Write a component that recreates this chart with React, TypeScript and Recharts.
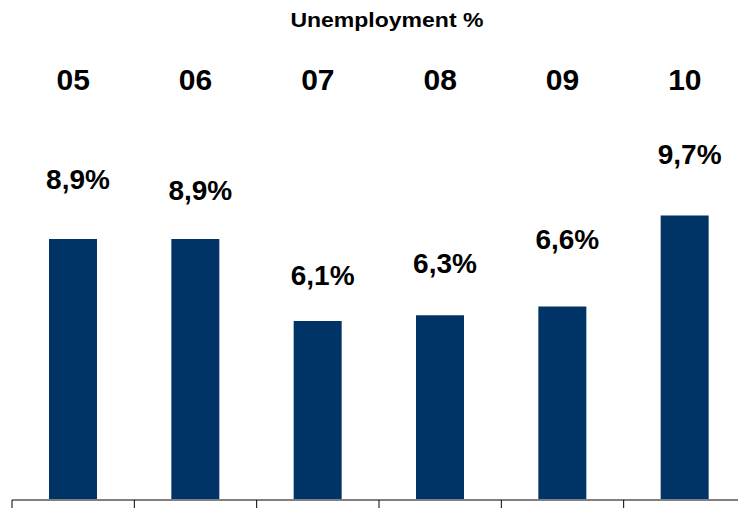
import { BarChart, Bar, XAxis, YAxis, LabelList } from 'recharts'

const years = ['05', '06', '07', '08', '09', '10']
const unemployment = [8.9, 8.9, 6.1, 6.3, 6.6, 9.7]
const valueLabels = ['8,9%', '8,9%', '6,1%', '6,3%', '6,6%', '9,7%']
// how far above each bar its label sits (hand placed in the original)
const labelLift = [50, 39, 36, 42, 57, 51]

const W = 746
const H = 508
const LEFT = 12
const band = (W - LEFT) / years.length
const font = '"Liberation Sans", Arial, sans-serif'

const data = years.map((y, i) => ({ year: y, value: unemployment[i], label: valueLabels[i] }))

function TopTick({ x, y, payload }: any) {
  return (
    <text x={x} y={y} textAnchor="middle" fontFamily={font} fontWeight="bold" fontSize={30} fill="#000">
      {payload.value}
    </text>
  )
}

function BottomTick({ x, y }: any) {
  const bx = x - band / 2
  return <line x1={bx} x2={bx} y1={y} y2={y + 8} stroke="#000" strokeWidth={1} />
}

function ValueLabel({ x, y, width, index }: any) {
  return (
    <text
      x={x + width / 2 + 5}
      y={y - labelLift[index]}
      textAnchor="middle"
      fontFamily={font}
      fontWeight="bold"
      fontSize={28}
      fill="#000"
    >
      {valueLabels[index]}
    </text>
  )
}

export default function App() {
  return (
    <div style={{ position: 'absolute', left: 0, top: 0, width: 738, height: H, overflow: 'hidden', background: '#fff' }}>
      <div
        style={{
          position: 'absolute',
          top: 10,
          left: 0,
          width: 773,
          textAlign: 'center',
          fontFamily: font,
          fontWeight: 'bold',
          fontSize: 20,
          lineHeight: '20px',
        }}
      >
        <span style={{ display: 'inline-block', transform: 'scaleX(1.15)' }}>Unemployment %</span>
      </div>
      <BarChart width={W} height={H} data={data} margin={{ top: 0, right: 0, bottom: 0, left: LEFT }}>
        <XAxis
          xAxisId="top"
          dataKey="year"
          orientation="top"
          height={148}
          axisLine={false}
          tickLine={false}
          tickSize={0}
          tickMargin={58}
          tick={<TopTick />}
          interval={0}
        />
        <XAxis
          xAxisId="bottom"
          dataKey="year"
          height={8}
          axisLine={{ stroke: '#808080', strokeWidth: 2 }}
          tickLine={false}
          tickSize={0}
          tickMargin={0}
          tick={<BottomTick />}
          interval={0}
        />
        <YAxis hide domain={[0, 12]} />
        <Bar dataKey="value" xAxisId="bottom" fill="#003366" barSize={48} isAnimationActive={false}>
          <LabelList dataKey="label" content={<ValueLabel />} />
        </Bar>
      </BarChart>
    </div>
  )
}
